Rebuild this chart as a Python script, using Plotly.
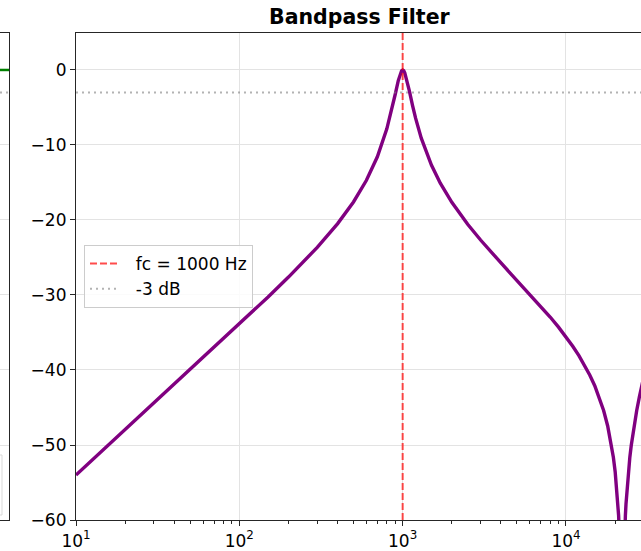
import plotly.graph_objects as go

# ---- data ----
freqs = [10, 20, 50, 100, 150, 200, 300, 400, 500, 600, 700, 800, 850, 900, 940, 970, 985,
         1000, 1015, 1030, 1060, 1100, 1150, 1200, 1300, 1500, 1700, 2000, 2500, 3000, 4000,
         5000, 6000, 7000, 8000, 9000, 10000, 11000, 12000, 13000, 14000, 15000, 16000, 17000,
         18000, 19000, 19500, 20000, 20500, 20800, 21000, 21500, 21800, 22000,
         22100, 22300, 22600, 23100, 23300, 23600, 24100, 24600, 25100, 26100, 27100, 28100,
         29100, 30100]
mag_db = [-54.0, -47.96, -39.98, -33.89, -30.26, -27.61, -23.65, -20.48, -17.60, -14.71, -11.57,
          -7.85, -5.66, -3.27, -1.42, -0.39, -0.10,
          0.0, -0.10, -0.37, -1.28, -2.83, -4.74, -6.42, -9.09, -12.68, -15.09, -17.65, -20.57,
          -22.67, -25.73, -28.01, -29.87, -31.48, -32.94, -34.29, -35.58, -36.84, -38.09, -39.36,
          -40.69, -42.10, -43.65, -45.40, -47.46, -50.03, -51.63, -53.56, -56.01, -57.89, -59.42,
          -65.05, -71.9, -85.9,
          -85.9, -71.9, -65.05, -59.42, -57.89, -56.01, -53.56, -51.63, -50.03, -47.46, -45.40,
          -43.65, -42.10, -40.69]
fc = 1000
ref_db = -3
x_tick_vals = [10, 100, 1000, 10000]
x_tick_text = ["10<sup>1</sup>", "10<sup>2</sup>", "10<sup>3</sup>", "10<sup>4</sup>"]
y_tick_vals = [0, -10, -20, -30, -40, -50, -60]
y_tick_text = ["0", "\u221210", "\u221220", "\u221230", "\u221240", "\u221250", "\u221260"]
left_levels = [0, -3]          # lines of the neighbouring (cropped) panel
title_text = "Bandpass Filter"

W, H = 641, 551
L, T, B = 76, 33, 31
FONT = "DejaVu Sans"
FS = 17
SPINE = "#262626"
GRID = "#e3e3e3"
Y_TOP = 4.93
PAD = "\u00a0\u00a0"

fig = go.Figure()

# main curve
fig.add_trace(go.Scatter(x=freqs, y=mag_db, mode="lines",
                         line=dict(color="#800080", width=3.4),
                         showlegend=False, xaxis="x", yaxis="y", hoverinfo="skip"))
# fc line
fig.add_trace(go.Scatter(x=[fc, fc], y=[-60, Y_TOP], mode="lines",
                         line=dict(color="rgba(255,0,0,0.7)", width=2, dash="7px,3px"),
                         name=PAD + "fc = %d Hz" % fc, xaxis="x", yaxis="y"))
# -3 dB line
fig.add_trace(go.Scatter(x=[freqs[0], freqs[-1]], y=[ref_db, ref_db], mode="lines",
                         line=dict(color="rgba(128,128,128,0.6)", width=2, dash="2px,4px"),
                         name=PAD + "%d dB" % ref_db, xaxis="x", yaxis="y"))

# neighbouring panel (cropped at the left edge)
fig.add_trace(go.Scatter(x=[0, 1], y=[left_levels[0]] * 2, mode="lines",
                         line=dict(color="green", width=2.5), showlegend=False,
                         xaxis="x2", yaxis="y2", hoverinfo="skip"))
fig.add_trace(go.Scatter(x=[0, 1], y=[left_levels[1]] * 2, mode="lines",
                         line=dict(color="rgba(128,128,128,0.6)", width=2, dash="2px,4px"),
                         showlegend=False, xaxis="x2", yaxis="y2", hoverinfo="skip"))

left_w = 9
plot_h = H - T - B

fig.update_layout(
    width=W, height=H,
    margin=dict(l=0, r=0, t=T, b=B, pad=0, autoexpand=False),
    paper_bgcolor="white", plot_bgcolor="white",
    font=dict(family=FONT, size=FS, color="black"),
    xaxis=dict(type="log", range=[1, 1 + (W - L) / 163.33],
               domain=[L / W, 1.0], automargin=False,
               tickvals=x_tick_vals, ticktext=x_tick_text,
               ticks="outside", ticklen=5, tickwidth=1.1, tickcolor=SPINE,
               minor=dict(ticks="outside", ticklen=2.5, tickwidth=1, tickcolor=SPINE,
                          dtick="D1", showgrid=False),
               showgrid=True, gridcolor=GRID, gridwidth=1,
               showline=True, linecolor=SPINE, linewidth=1.2, mirror=True,
               zeroline=False, tickfont=dict(size=FS), anchor="y"),
    yaxis=dict(range=[-60, Y_TOP], automargin=False,
               tickvals=y_tick_vals, ticktext=y_tick_text,
               ticks="outside", ticklen=5, tickwidth=1.1, tickcolor=SPINE,
               showgrid=True, gridcolor=GRID, gridwidth=1,
               showline=True, linecolor=SPINE, linewidth=1.2, mirror=False,
               zeroline=False, tickfont=dict(size=FS), anchor="x"),
    xaxis2=dict(range=[0, 1], domain=[0, left_w / W], showticklabels=False, ticks="",
                automargin=False,
                showgrid=False, zeroline=False, showline=True, linecolor=SPINE,
                linewidth=1.2, mirror=True, anchor="y2"),
    yaxis2=dict(range=[-60, Y_TOP], side="right", showticklabels=False, ticks="",
                automargin=False,
                tickvals=y_tick_vals, showgrid=True, gridcolor=GRID, gridwidth=1,
                zeroline=False, showline=True, linecolor=SPINE, linewidth=1.2,
                anchor="x2"),
    legend=dict(x=84 / W, y=(520 - 245) / plot_h, xanchor="left", yanchor="top",
                xref="paper", yref="paper",
                bgcolor="rgba(255,255,255,0.85)", bordercolor="#cccccc", borderwidth=1,
                font=dict(family=FONT, size=FS), tracegroupgap=0, itemwidth=30),
    showlegend=True,
)

# legend box of the neighbouring panel (partially visible)
fig.add_shape(type="rect", xref="paper", yref="paper",
              x0=-0.01, x1=2 / W, y0=(520 - 515) / plot_h, y1=(520 - 455) / plot_h,
              line=dict(color="#d9d9d9", width=1), fillcolor="rgba(255,255,255,0.8)")

fig.add_annotation(text="<b>%s</b>" % title_text, xref="paper", yref="paper",
                   x=360 / W, y=1, xanchor="center", yanchor="bottom", yshift=2,
                   showarrow=False, font=dict(family=FONT, size=20.5, color="black"))

fig.write_html("out.html")
